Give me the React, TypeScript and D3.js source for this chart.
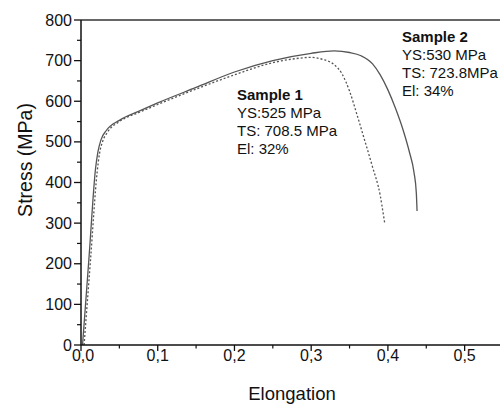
import React from "react";
import { scaleLinear, line, curveMonotoneX, range } from "d3";

// Sample 1 (dotted) - elongation vs stress (MPa)
const sample1Strain = [0.004, 0.0125, 0.021, 0.024, 0.028, 0.035, 0.05, 0.075, 0.1, 0.15, 0.2, 0.25, 0.28, 0.3, 0.315, 0.33, 0.34, 0.35, 0.36, 0.37, 0.38, 0.39, 0.394, 0.396];
const sample1Stress = [0, 212, 425, 470, 500, 525, 550, 572, 592, 630, 665, 695, 705, 708, 703, 690, 668, 625, 565, 502, 438, 368, 322, 298];

// Sample 2 (solid)
const sample2Strain = [0.002, 0.0105, 0.019, 0.022, 0.026, 0.033, 0.05, 0.075, 0.1, 0.15, 0.2, 0.25, 0.3, 0.33, 0.35, 0.365, 0.38, 0.39, 0.4, 0.41, 0.42, 0.428, 0.434, 0.437, 0.438];
const sample2Stress = [0, 217, 435, 475, 505, 528, 553, 575, 596, 634, 672, 700, 718, 723.8, 720, 712, 692, 665, 628, 582, 528, 475, 425, 375, 330];

const xTicks = [0, 0.1, 0.2, 0.3, 0.4, 0.5];
const xTickLabels = ["0,0", "0,1", "0,2", "0,3", "0,4", "0,5"];
const yTicks = [0, 100, 200, 300, 400, 500, 600, 700, 800];

const label1 = ["Sample 1", "YS:525 MPa", "TS: 708.5 MPa", "El: 32%"];
const label2 = ["Sample 2", "YS:530 MPa", "TS: 723.8MPa", "El: 34%"];

const font = "'Liberation Sans', Arial, sans-serif";

export default function App() {
  const width = 500;
  const height = 406;
  const left = 81;
  const top = 20;
  const bottom = 345;
  const right = 503;

  const x = scaleLinear().domain([0, 0.55]).range([left, right]);
  const y = scaleLinear().domain([0, 800]).range([bottom, top]);

  const path = line<[number, number]>()
    .x(d => x(d[0]))
    .y(d => y(d[1]))
    .curve(curveMonotoneX);

  const s1 = sample1Strain.map((v, i) => [v, sample1Stress[i]] as [number, number]);
  const s2 = sample2Strain.map((v, i) => [v, sample2Stress[i]] as [number, number]);

  const xMinor = range(0.05, 0.55, 0.1);
  const yMinor = range(50, 800, 100);

  return (
    <svg
      width={width}
      height={height}
      style={{ position: "absolute", left: 0, top: 0, background: "white" }}
      fontFamily={font}
    >
      {/* frame top line */}
      <line x1={left} x2={right} y1={top} y2={top} stroke="#333" strokeWidth={1.5} />

      {/* curves */}
      <path d={path(s2) || ""} fill="none" stroke="#555" strokeWidth={1.3} />
      <path d={path(s1) || ""} fill="none" stroke="#555" strokeWidth={1.3} strokeDasharray="2,2" />

      {/* axes */}
      <line x1={left} x2={left} y1={top} y2={bottom} stroke="#111" strokeWidth={1.5} />
      <line x1={left} x2={right} y1={bottom} y2={bottom} stroke="#111" strokeWidth={1.5} />

      {yTicks.map(t => (
        <g key={`y${t}`}>
          <line x1={left - 7} x2={left} y1={y(t)} y2={y(t)} stroke="#111" strokeWidth={1.3} />
          <text x={left - 9} y={y(t)} dy="0.35em" textAnchor="end" fontSize={16} fill="#111">
            {t}
          </text>
        </g>
      ))}
      {yMinor.map(t => (
        <line key={`ym${t}`} x1={left - 4} x2={left} y1={y(t)} y2={y(t)} stroke="#111" strokeWidth={1.2} />
      ))}

      {xTicks.map((t, i) => (
        <g key={`x${t}`}>
          <line x1={x(t)} x2={x(t)} y1={bottom} y2={bottom + 6} stroke="#111" strokeWidth={1.3} />
          <text x={x(t) + (i === 0 ? 2 : 0)} y={361} textAnchor="middle" fontSize={16} fill="#111">
            {xTickLabels[i]}
          </text>
        </g>
      ))}
      {xMinor.map(t => (
        <line key={`xm${t}`} x1={x(t)} x2={x(t)} y1={bottom} y2={bottom + 3.5} stroke="#111" strokeWidth={1.2} />
      ))}

      {/* axis titles */}
      <text x={(left + right) / 2} y={400} textAnchor="middle" fontSize={18.5} fill="#111">
        Elongation
      </text>
      <text
        transform="translate(32, 160) rotate(-90)"
        textAnchor="middle"
        fontSize={19.5}
        fill="#111"
      >
        Stress (MPa)
      </text>

      {/* annotations */}
      {label1.map((t, i) => (
        <text key={t} x={237} y={100 + i * 18} fontSize={15} fontWeight={i === 0 ? "bold" : "normal"} fill="#111">
          {t}
        </text>
      ))}
      {label2.map((t, i) => (
        <text key={t} x={402} y={42 + i * 18} fontSize={15} fontWeight={i === 0 ? "bold" : "normal"} fill="#111">
          {t}
        </text>
      ))}
    </svg>
  );
}
